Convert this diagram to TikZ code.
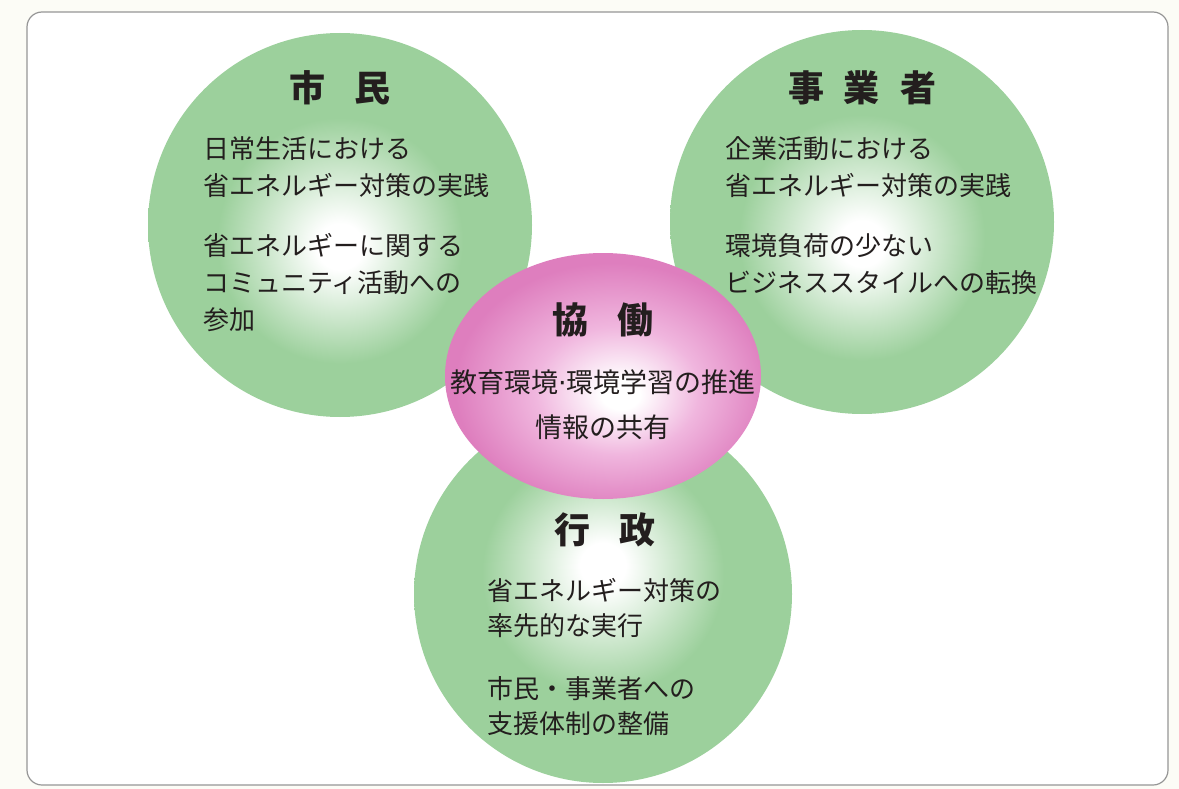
\documentclass[tikz,border=0pt]{standalone}
\usepackage{fontspec}
\setmainfont{Noto Sans CJK JP}
\newfontfamily\dotfont{DejaVu Sans}
\usetikzlibrary{shapes.geometric}

\definecolor{ballgreen}{RGB}{156,208,156}
\definecolor{ballpink}{RGB}{222,126,190}
\definecolor{lightpink}{RGB}{240,182,222}
\definecolor{inkgray}{RGB}{35,30,30}
\definecolor{framegray}{RGB}{150,150,150}
\definecolor{paper}{RGB}{252,252,246}

\pgfdeclareradialshading{greenlow}{\pgfpoint{0bp}{-3bp}}{color(0bp)=(white); color(3bp)=(white); color(16bp)=(ballgreen); color(50bp)=(ballgreen)}
\pgfdeclareradialshading{greenhigh}{\pgfpoint{0bp}{4bp}}{color(0bp)=(white); color(3bp)=(white); color(16bp)=(ballgreen); color(50bp)=(ballgreen)}
\pgfdeclareradialshading{pinkglow}{\pgfpoint{3bp}{-4bp}}{color(0bp)=(white); color(3bp)=(white); color(13bp)=(lightpink); color(25bp)=(ballpink); color(50bp)=(ballpink)}

\tikzset{
    frame/.style={draw=framegray, line width=1.2pt, fill=white, rounded corners=15pt},
    ball/.style={circle, minimum size=384pt, inner sep=0pt},
    title/.style={font=\fontsize{36}{36}\selectfont\bfseries, text=inkgray, inner sep=0pt},
    body/.style={font=\fontsize{26}{37}\selectfont, text=inkgray, align=left, anchor=north west, inner sep=0pt}
}

\begin{document}
\begin{tikzpicture}[x=1pt, y=-1pt]
    \useasboundingbox (0,0) rectangle (1179,789);
    \fill [paper] (0,0) rectangle (1179,789);
    \draw [frame] (27,12) rectangle (1168,785);
    \node (shimin) [ball, shading=greenlow] at (340,225) {};
    \node (jigyo) [ball, shading=greenlow] at (862,222) {};
    \node (gyosei) [ball, minimum size=378pt, shading=greenhigh] at (603,594) {};
    \node (kyodo) [ellipse, minimum width=316pt, minimum height=246pt, inner sep=0pt, shading=pinkglow] at (603,376) {};
    \node (shimintitle) [title] at (340,88) {市\hspace{30pt}民};
    \node (jigyotitle) [title] at (862,88) {事\hspace{20pt}業\hspace{20pt}者};
    \node (kyodotitle) [title] at (603,320) {協\hspace{30pt}働};
    \node (gyoseititle) [title] at (605,530) {行\hspace{30pt}政};
    \node (shimintext) [body] at (203,136) {日常生活における\\省エネルギー対策の実践\\[23pt]省エネルギーに関する\\コミュニティ活動への\\参加};
    \node (jigyotext) [body] at (725,136) {企業活動における\\省エネルギー対策の実践\\[23pt]環境負荷の少ない\\ビジネススタイルへの転換};
    \node (kyodotext) [body, align=center, anchor=center, font=\fontsize{27}{45}\selectfont] at (603,405) {教育環境{\dotfont ·}環境学習の推進\\情報の共有};
    \node (gyoseitext) [body, font=\fontsize{26}{35}\selectfont] at (487,578) {省エネルギー対策の\\率先的な実行\\[28pt]市民・事業者への\\支援体制の整備};
\end{tikzpicture}
\end{document}
